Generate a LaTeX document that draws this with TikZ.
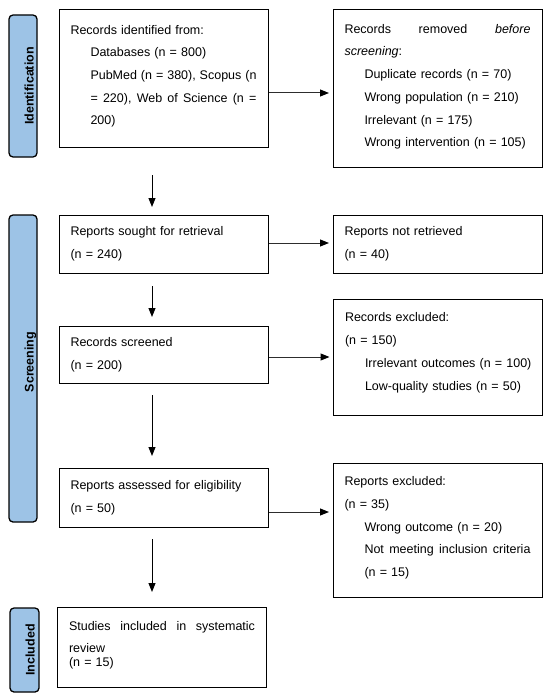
\documentclass[tikz,border=0pt]{standalone}
\usepackage{fontspec}
\setmainfont{Liberation Sans}
\usetikzlibrary{arrows.meta}
\newcommand{\TXTW}{186pt}
\newcommand{\LINEPT}{1pt}
\newcommand{\BOXFONT}{\fontsize{12.5}{22.7}\selectfont}
\newcommand{\IND}{\hspace*{20pt}}
\newcommand{\INDL}[1]{\IND\mbox{#1}}
\newcommand{\JLINE}[1]{\leavevmode\hbox to \TXTW{\frenchspacing\spaceskip=0.278em plus 1fil\relax #1}}
\newcommand{\JIND}[1]{\IND\hbox to \dimexpr\TXTW-20pt\relax{\frenchspacing\spaceskip=0.278em plus 1fil\relax #1}}
\newcommand{\BOTPAD}[1][11pt]{\rule[-#1]{0pt}{#1}}
\definecolor{mybar}{RGB}{157,195,230}
\definecolor{myline}{RGB}{45,45,45}

\begin{document}
\begin{tikzpicture}[x=1pt,y=-1pt,
	box/.style={draw=black,line width=\LINEPT,text width=\TXTW,inner xsep=11.5pt,inner ysep=0pt,
		align=left,font=\BOXFONT,execute at begin node=\setlength{\parindent}{0pt}},
	phase/.style={draw=black,line width=1.3pt,fill=mybar,rounded corners=4pt},
	phaselbl/.style={rotate=90,anchor=base,inner sep=0pt,font=\fontsize{12.5}{15}\selectfont\bfseries},
	arr/.style={->,color=myline,line width=\LINEPT},
	>={Triangle[length=9pt,width=7pt,color=black]}]

	\useasboundingbox (0,0) rectangle (550,698);

	%% phase bars on the left
	\draw[phase] (9,15) rectangle (37,157);
	\draw[phase] (9,215) rectangle (37,522);
	\draw[phase] (10,608) rectangle (39,692);
	\begin{scope}
		\clip (9,0) rectangle (35,698);
		\node[phaselbl] (lblid) at (33.5,86) {Identification};
		\node[phaselbl] (lblscr) at (33.5,362) {Screening};
		\node[phaselbl] (lblinc) at (34.5,650) {Included};
	\end{scope}

	%% boxes
	\node[box,minimum height=137pt] (ident) at (163.5,78.5) {Records identified from:\\
		\INDL{Databases (n = 800)}\\
		\JIND{PubMed (n = 380), Scopus (n}\\
		\JIND{= 220), Web of Science (n =}\\
		\INDL{200)}\BOTPAD[7pt]};
	\node[box,minimum height=157pt] (remov) at (437.5,88.5) {\JLINE{Records removed \emph{before}}\\
		\emph{screening}:\\
		\INDL{Duplicate records (n = 70)}\\
		\INDL{Wrong population (n = 210)}\\
		\INDL{Irrelevant (n = 175)}\\
		\INDL{Wrong intervention (n = 105)}\BOTPAD[6pt]};

	\node[box,minimum height=58pt] (sought) at (163.5,244) {Reports sought for retrieval\\(n = 240)};
	\node[box,minimum height=58pt] (notret) at (437.5,244) {Reports not retrieved\\(n = 40)};

	\node[box,minimum height=57pt] (screen) at (163.5,354.5) {Records screened\\(n = 200)};
	\node[box,minimum height=116pt] (excla) at (438,357) {Records excluded:\\
		(n = 150)\\
		\INDL{Irrelevant outcomes (n = 100)}\\
		\INDL{Low-quality studies (n = 50)}\BOTPAD};

	\node[box,minimum height=59pt] (assess) at (163.5,497.5) {Reports assessed for eligibility\\(n = 50)};
	\node[box,minimum height=134pt] (exclb) at (437.5,530) {Reports excluded:\\
		(n = 35)\\
		\INDL{Wrong outcome (n = 20)}\\
		\JIND{Not meeting inclusion criteria}\\
		\INDL{(n = 15)}\BOTPAD[7pt]};

	\node[box,minimum height=80pt] (incl) at (162,647) {\JLINE{Studies included in systematic}\\
		review\\[-8.7pt]
		(n = 15)\BOTPAD[6pt]};

	%% arrows to the right
	\draw[arr,shorten >=3.5pt] (ident.east |- 0,93) -- (remov.west |- 0,93);
	\draw[arr,shorten >=3.5pt] (sought.east |- 0,243) -- (notret.west |- 0,243);
	\draw[arr,shorten >=3.5pt] (screen.east |- 0,357) -- (excla.west |- 0,357);
	\draw[arr,shorten >=3.5pt] (assess.east |- 0,512) -- (exclb.west |- 0,512);

	%% arrows down
	\coordinate (d1s) at (152,175); \coordinate (d1e) at (152,207);
	\coordinate (d2s) at (152,286); \coordinate (d2e) at (152,317);
	\coordinate (d3s) at (152,395); \coordinate (d3e) at (152,456);
	\coordinate (d4s) at (152,539); \coordinate (d4e) at (152,592);
	\draw[arr,color=black] (d1s) -- (d1e);
	\draw[arr,color=black] (d2s) -- (d2e);
	\draw[arr,color=black] (d3s) -- (d3e);
	\draw[arr,color=black] (d4s) -- (d4e);

\end{tikzpicture}
\end{document}
